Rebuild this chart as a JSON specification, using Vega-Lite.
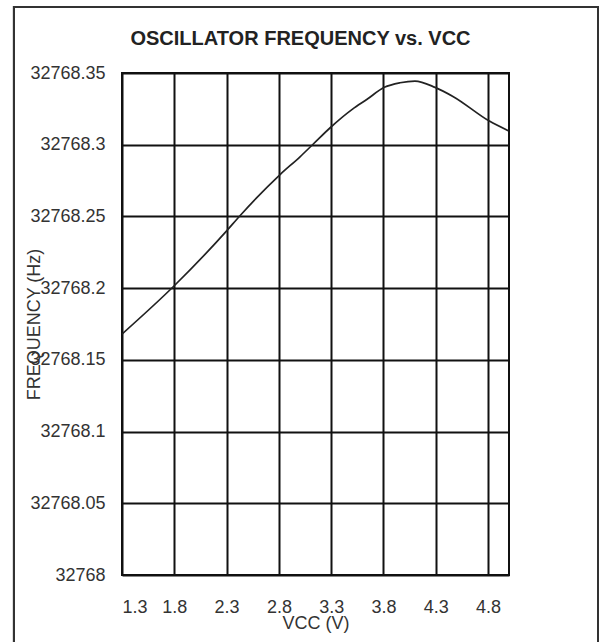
{
  "$schema": "https://vega.github.io/schema/vega-lite/v6.json",
  "width": 387,
  "height": 502,
  "autosize": {"type": "none"},
  "padding": {"left": 122, "top": 73, "right": 90, "bottom": 67},
  "background": "white",
  "title": {
    "text": "OSCILLATOR FREQUENCY vs. VCC",
    "font": "Liberation Sans",
    "fontSize": 20,
    "fontWeight": "bold",
    "color": "#222",
    "anchor": "middle",
    "baseline": "alphabetic",
    "offset": -59,
    "dx": -15
  },
  "config": {
    "view": {"stroke": "#111", "strokeWidth": 2},
    "axis": {
      "labelFont": "Liberation Sans",
      "titleFont": "Liberation Sans",
      "labelFontSize": 18,
      "titleFontSize": 18,
      "labelColor": "#333",
      "titleColor": "#333",
      "titleFontWeight": "normal",
      "domain": false,
      "ticks": false,
      "grid": true,
      "gridColor": "#111",
      "gridWidth": 2,
      "gridOpacity": 1
    }
  },
  "data": {
    "values": [
      {"vcc": 1.3, "freq": 32768.168},
      {"vcc": 1.797, "freq": 32768.2015},
      {"vcc": 2.294, "freq": 32768.2394},
      {"vcc": 2.428, "freq": 32768.2505},
      {"vcc": 2.814, "freq": 32768.2794},
      {"vcc": 3.002, "freq": 32768.2916},
      {"vcc": 3.129, "freq": 32768.3005},
      {"vcc": 3.293, "freq": 32768.312},
      {"vcc": 3.504, "freq": 32768.3248},
      {"vcc": 3.64, "freq": 32768.3315},
      {"vcc": 3.808, "freq": 32768.34},
      {"vcc": 3.958, "freq": 32768.3432},
      {"vcc": 4.101, "freq": 32768.3444},
      {"vcc": 4.293, "freq": 32768.34},
      {"vcc": 4.468, "freq": 32768.3335},
      {"vcc": 4.812, "freq": 32768.3165},
      {"vcc": 4.993, "freq": 32768.3098}
    ]
  },
  "layer": [
    {
      "mark": {"type": "rect", "fill": null, "fillOpacity": 0, "stroke": "#333", "strokeWidth": 2, "clip": false},
      "encoding": {
        "x": {"datum": 0.2674, "type": "quantitative"},
        "x2": {"datum": 5.851},
        "y": {"datum": 32768.396, "type": "quantitative"},
        "y2": {"datum": 32767.94}
      }
    },
    {
      "mark": {"type": "line", "color": "#222", "strokeWidth": 1.7, "interpolate": "monotone"},
      "encoding": {
        "x": {
          "field": "vcc",
          "type": "quantitative",
          "scale": {"domain": [1.3, 5.0], "nice": false, "zero": false},
          "axis": {
            "values": [1.3, 1.8, 2.3, 2.8, 3.3, 3.8, 4.3, 4.8],
            "format": ".1f",
            "labelPadding": 23,
            "title": "VCC (V)",
            "titleY": 53,
            "titleBaseline": "alphabetic"
          }
        },
        "y": {
          "field": "freq",
          "type": "quantitative",
          "scale": {"domain": [32768, 32768.35], "nice": false, "zero": false},
          "axis": {
            "values": [32768, 32768.05, 32768.1, 32768.15, 32768.2, 32768.25, 32768.3, 32768.35],
            "format": ".2~f",
            "labelPadding": 17,
            "title": "FREQUENCY (Hz)",
            "titleX": -82.5,
            "titleBaseline": "alphabetic"
          }
        }
      }
    }
  ]
}
